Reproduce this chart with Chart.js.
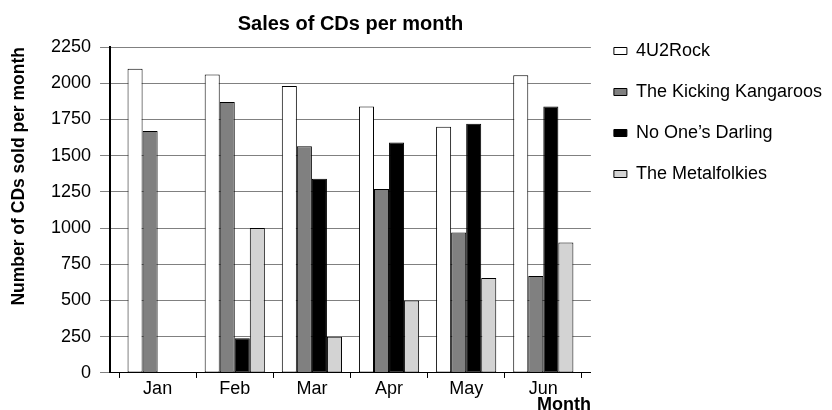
<!DOCTYPE html>
<html>
<head>
<meta charset="UTF-8">
<title>Sales of CDs per month</title>
<script src="https://cdn.jsdelivr.net/npm/chart.js@4"></script>
<style>
  html, body { margin: 0; padding: 0; background: #ffffff; }
  #wrap { width: 832px; height: 410px; }
</style>
</head>
<body>
<div id="wrap"><canvas id="cds" width="832" height="410"></canvas></div>
<script>
// monthly CD sales per band
const months = ['Jan', 'Feb', 'Mar', 'Apr', 'May', 'Jun'];
const rock4u2 = [2100, 2060, 1980, 1840, 1700, 2055];
const kickingKangaroos = [1670, 1870, 1565, 1270, 970, 670];
const noOnesDarling = [0, 240, 1340, 1590, 1720, 1840];
const metalfolkies = [0, 1000, 250, 500, 655, 900];
const yTicks = { min: 0, max: 2250, step: 250 };

// extra room (in category units) left of Jan and right of Jun
const edgePad = 9 / 77;

const font = "'Liberation Sans', Arial, sans-serif";
Chart.defaults.font.family = font;
Chart.defaults.color = '#000';

const series = [
  { label: '4U2Rock', data: rock4u2, fill: '#ffffff' },
  { label: 'The Kicking Kangaroos', data: kickingKangaroos, fill: '#808080' },
  { label: 'No One\u2019s Darling', data: noOnesDarling, fill: '#000000' },
  { label: 'The Metalfolkies', data: metalfolkies, fill: '#d3d3d3' }
];

new Chart(document.getElementById('cds').getContext('2d'), {
  type: 'bar',
  data: {
    labels: months,
    datasets: series.map(s => ({
      label: s.label,
      data: s.data,
      backgroundColor: s.fill,
      borderColor: '#000',
      borderWidth: 1,
      borderSkipped: false,
      categoryPercentage: 0.78,
      barPercentage: 1
    }))
  },
  options: {
    responsive: false,
    animation: false,
    devicePixelRatio: 1,
    layout: { padding: { top: 19, left: 0, right: 0, bottom: 0 } },
    plugins: {
      title: {
        display: true,
        fullSize: false,
        text: 'Sales of CDs per month',
        color: '#000',
        font: { size: 20, weight: 'bold', lineHeight: 0.5 },
        padding: { top: 0, bottom: 18 }
      },
      legend: {
        position: 'right',
        align: 'start',
        fullSize: true,
        maxWidth: 242,
        labels: {
          boxWidth: 13,
          boxHeight: 7,
          padding: 23,
          color: '#000',
          font: { size: 18 }
        }
      },
      tooltip: { enabled: false }
    },
    scales: {
      x: {
        offset: true,
        afterBuildTicks: axis => {
          axis._startValue = -0.5 - edgePad;
          axis._valueRange = months.length + 2 * edgePad;
        },
        grid: {
          display: true,
          offset: true,
          drawOnChartArea: false,
          tickLength: 5,
          tickColor: '#000'
        },
        border: { color: '#000', width: 1 },
        ticks: { padding: 0, font: { size: 18, lineHeight: 1.2 }, color: '#000', maxRotation: 0 },
        title: {
          display: true,
          text: 'Month',
          align: 'end',
          color: '#000',
          font: { size: 18, weight: 'bold', lineHeight: 0.58 },
          padding: 0
        }
      },
      y: {
        min: yTicks.min,
        max: yTicks.max,
        grid: { color: '#808080', tickLength: 10, tickColor: '#808080' },
        border: { color: '#000', width: 2 },
        ticks: {
          stepSize: yTicks.step,
          padding: 9,
          font: { size: 18 },
          color: '#000',
          callback: v => String(v)
        },
        title: {
          display: true,
          text: 'Number of CDs sold per month',
          align: 'end',
          color: '#000',
          font: { size: 17.5, weight: 'bold', lineHeight: 1.2 },
          padding: { top: 8.5, bottom: 12.5 }
        }
      }
    }
  }
});
</script>
</body>
</html>
